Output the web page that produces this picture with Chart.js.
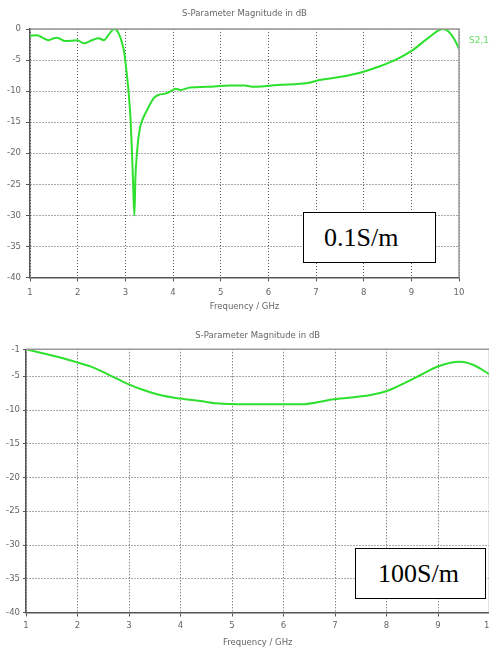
<!DOCTYPE html>
<html>
<head>
<meta charset="utf-8">
<script src="https://cdn.jsdelivr.net/npm/chart.js@4/dist/chart.umd.min.js"></script>
<style>
  html, body { margin: 0; padding: 0; background: #fff; }
  body { width: 489px; height: 649px; overflow: hidden; position: relative; }
  canvas { position: absolute; left: 0; }
  #top { top: 0; }
  #bottom { top: 320px; }
  .tag {
    position: absolute; box-sizing: border-box; background: #fff;
    border: 1.5px solid #000; font-family: "Liberation Serif", serif;
    font-size: 26px; line-height: 1; color: #000;
  }
</style>
</head>
<body>
<canvas id="top" width="489" height="320"></canvas>
<canvas id="bottom" width="540" height="329"></canvas>
<div class="tag" style="left:303px;top:212px;width:133px;height:51px;padding:12px 0 0 20px;">0.1S/m</div>
<div class="tag" style="left:355px;top:548px;width:131px;height:51px;padding:12px 0 0 22px;">100S/m</div>
<script>
// frequency axis (GHz) and the two |S21| traces in dB
const freqTicks = [1, 2, 3, 4, 5, 6, 7, 8, 9, 10];
const yTicksA = [0, -5, -10, -15, -20, -25, -30, -35, -40];
const yTicksB = [-1, -5, -10, -15, -20, -25, -30, -35, -40];

// 0.1 S/m
const freqA = [1.0, 1.15, 1.26, 1.39, 1.5, 1.57, 1.74, 1.99, 2.13, 2.3, 2.44, 2.55, 2.65, 2.77, 2.86, 2.93,
  2.98, 3.02, 3.07, 3.11, 3.14, 3.16, 3.19, 3.21, 3.25, 3.3, 3.35, 3.46, 3.6, 3.7, 3.84, 3.98, 4.05,
  4.16, 4.36, 4.71, 5.2, 5.5, 5.71, 6.2, 6.82, 7.03, 7.52, 7.94, 8.34, 8.7, 9.02, 9.33, 9.66, 9.78, 9.9, 10.0];
const s21A = [-1.1, -1.0, -1.4, -1.8, -1.5, -1.4, -1.95, -1.8, -2.3, -1.8, -1.5, -1.8, -0.9, 0, -0.7, -2.2,
  -3.9, -6.5, -10.3, -14.6, -19.9, -24.2, -30, -24.2, -19.4, -16.2, -14.8, -13, -11.1, -10.6, -10.4, -9.9, -9.6,
  -9.8, -9.4, -9.3, -9.1, -9.1, -9.3, -9.0, -8.7, -8.3, -7.7, -7.0, -6.0, -4.85, -3.45, -1.6, 0, -0.4, -1.6, -3.2];

// 100 S/m
const freqB = [1.0, 1.72, 2.02, 2.3, 2.63, 2.95, 3.28, 3.6, 3.99, 4.38, 4.7, 5.25, 6.33, 6.98, 7.69, 8.01,
  8.34, 8.66, 8.98, 9.24, 9.43, 9.69, 10.0];
const s21B = [-1.0, -2.33, -3.0, -3.67, -4.85, -6.04, -7.03, -7.77, -8.3, -8.66, -9.0, -9.15, -9.15, -8.4, -7.77, -7.18,
  -6.04, -4.81, -3.58, -2.98, -2.84, -3.33, -4.7];

const tickFont = { family: "DejaVu Sans", size: 8.5 };
const textColor = "#666";

// title above the plot, frame on top/right, optional trace name
const framePlugin = {
  id: "frame",
  afterDraw(chart, args, opts) {
    const { ctx, chartArea: a } = chart;
    ctx.save();
    ctx.strokeStyle = "#999";
    ctx.lineWidth = 1.5;
    ctx.beginPath();
    ctx.moveTo(a.left, a.top);
    ctx.lineTo(a.right, a.top);
    ctx.lineTo(a.right, a.bottom);
    ctx.stroke();
    ctx.font = "8.5px 'DejaVu Sans'";
    ctx.fillStyle = textColor;
    ctx.textAlign = "center";
    ctx.textBaseline = "middle";
    ctx.fillText(opts.title, (a.left + a.right) / 2, a.top + opts.titleY);
    if (opts.name) {
      ctx.fillStyle = "#66e066";
      ctx.textAlign = "left";
      ctx.font = "9px 'DejaVu Sans'";
      ctx.fillText(opts.name, a.right + 10, a.top + 12);
    }
    ctx.restore();
  }
};

function makeChart(id, freq, vals, yTicks, lay) {
  const points = freq.map((f, i) => ({ x: f, y: vals[i] }));
  return new Chart(document.getElementById(id), {
    type: "line",
    data: {
      datasets: [{
        data: points,
        borderColor: "#2ee02e",
        borderWidth: 2,
        pointRadius: 0,
        cubicInterpolationMode: "monotone"
      }]
    },
    options: {
      responsive: false,
      animation: false,
      layout: { padding: { left: 0, top: lay.top, right: lay.right, bottom: 0 } },
      plugins: {
        legend: { display: false },
        tooltip: { enabled: false },
        frame: { title: "S-Parameter Magnitude in dB", titleY: lay.titleY, name: lay.name }
      },
      scales: {
        x: {
          type: "linear", min: 1, max: 10,
          afterBuildTicks: s => { s.ticks = freqTicks.map(v => ({ value: v })); },
          afterFit: s => { s.height = lay.xh; },
          ticks: { font: tickFont, color: textColor, padding: lay.xpad, maxRotation: 0 },
          grid: { color: "#555", tickLength: 4, tickColor: "#555", tickBorderDash: [] },
          border: { color: "#555", width: 1.5, dash: [1, 2] },
          title: { display: true, text: "Frequency / GHz", font: tickFont, color: textColor,
                   padding: { top: 0, bottom: lay.tpad } }
        },
        y: {
          type: "linear", min: yTicks[yTicks.length - 1], max: yTicks[0],
          afterBuildTicks: s => { s.ticks = yTicks.map(v => ({ value: v })); },
          afterFit: s => { s.width = lay.yw; },
          ticks: { font: tickFont, color: textColor, padding: lay.ypad },
          grid: { color: "#555", tickLength: lay.ytl, tickColor: "#555", tickBorderDash: [] },
          border: { color: "#555", width: 1.5, dash: [1, 2] }
        }
      }
    },
    plugins: [framePlugin]
  });
}

makeChart("top", freqA, s21A, yTicksA,
  { top: 29, right: 30, xh: 42.5, yw: 30, xpad: 6, ypad: 5, ytl: 4, tpad: 8, titleY: -15, name: "S2,1" });
makeChart("bottom", freqB, s21B, yTicksB,
  { top: 29.3, right: 50.5, xh: 36.5, yw: 26, xpad: 4, ypad: 3, ytl: 3, tpad: 1, titleY: -14 });
</script>
</body>
</html>
